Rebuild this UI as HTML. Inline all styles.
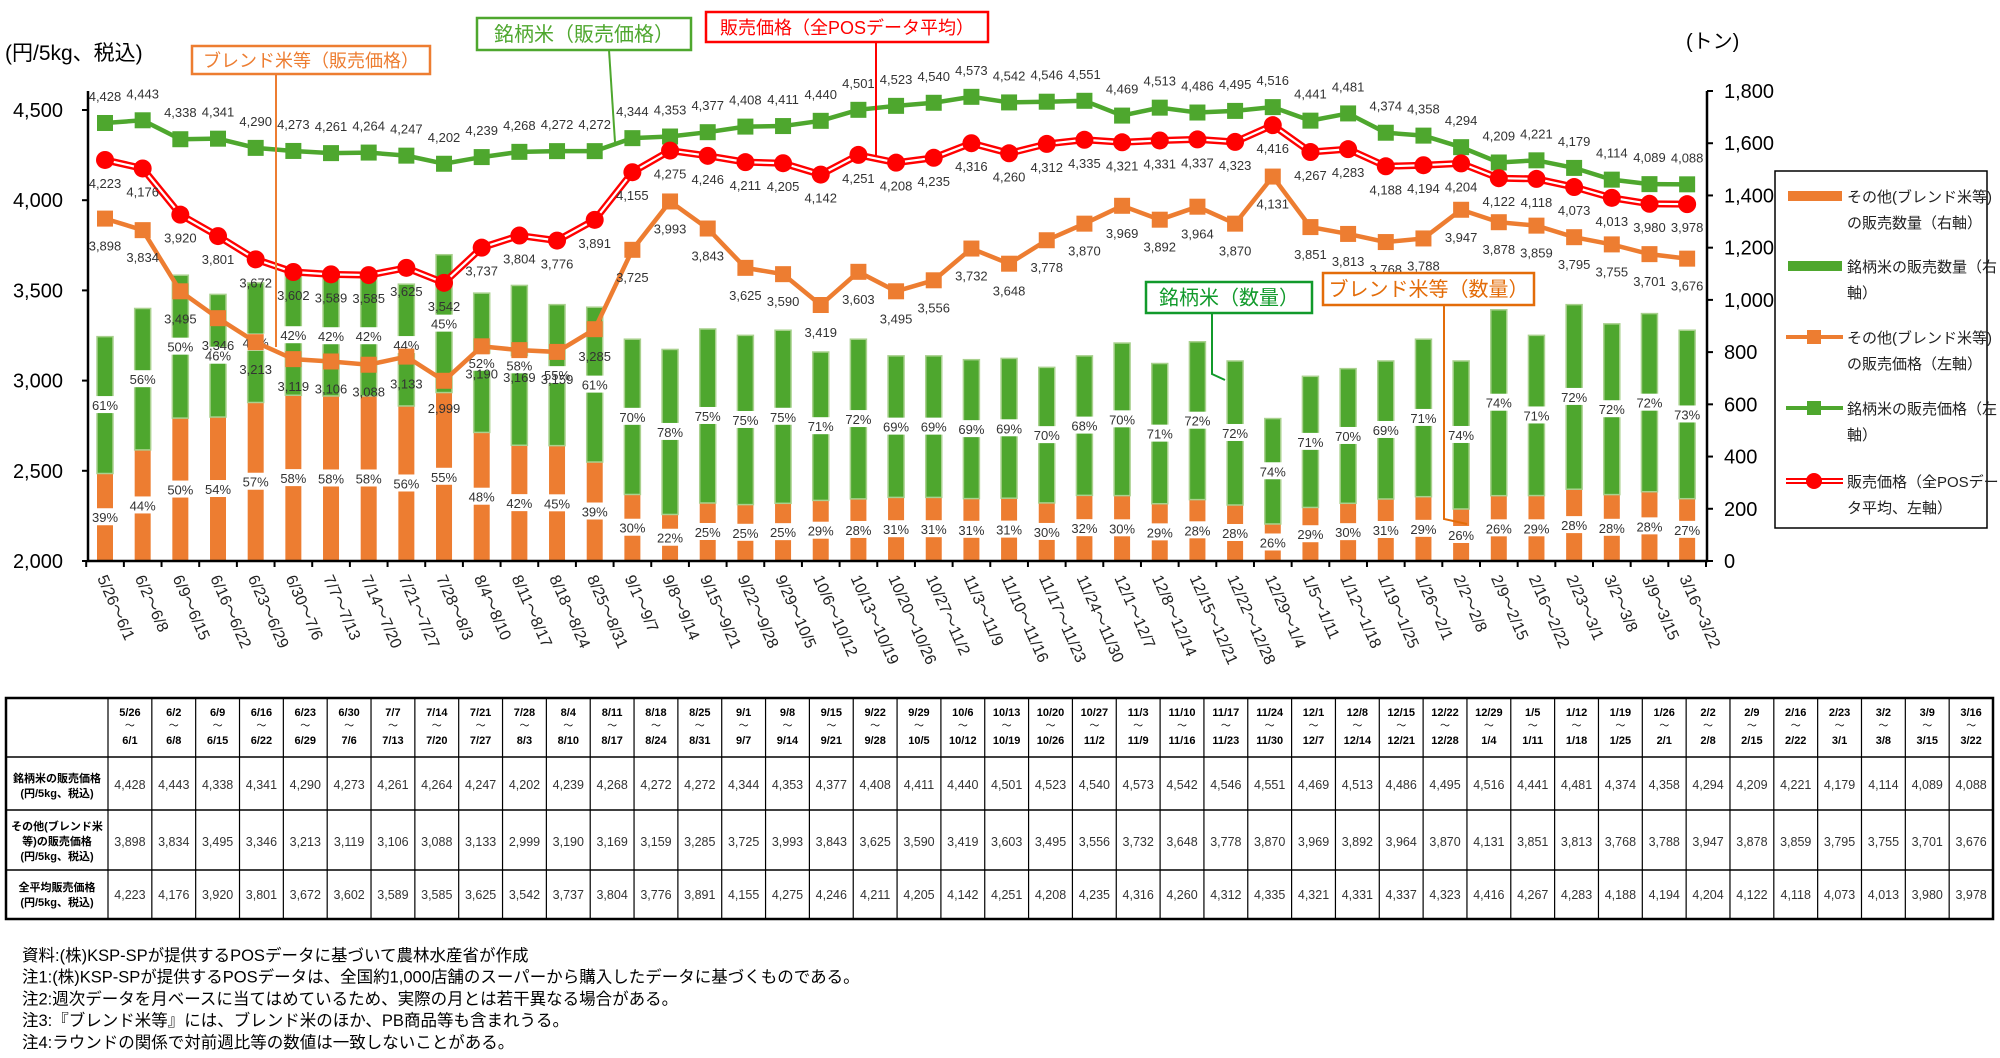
<!DOCTYPE html>
<html><head><meta charset="utf-8">
<style>
html,body{margin:0;padding:0;background:#fff;width:2000px;height:1058px;overflow:hidden}
svg{display:block;font-family:"Liberation Sans","Noto Sans CJK JP",sans-serif}
</style></head>
<body>
<svg id="c" width="2000" height="1058" viewBox="0 0 2000 1058" xmlns="http://www.w3.org/2000/svg"></svg>
<script>
const G=["4,428","4,443","4,338","4,341","4,290","4,273","4,261","4,264","4,247","4,202","4,239","4,268","4,272","4,272","4,344","4,353","4,377","4,408","4,411","4,440","4,501","4,523","4,540","4,573","4,542","4,546","4,551","4,469","4,513","4,486","4,495","4,516","4,441","4,481","4,374","4,358","4,294","4,209","4,221","4,179","4,114","4,089","4,088"];
const O=["3,898","3,834","3,495","3,346","3,213","3,119","3,106","3,088","3,133","2,999","3,190","3,169","3,159","3,285","3,725","3,993","3,843","3,625","3,590","3,419","3,603","3,495","3,556","3,732","3,648","3,778","3,870","3,969","3,892","3,964","3,870","4,131","3,851","3,813","3,768","3,788","3,947","3,878","3,859","3,795","3,755","3,701","3,676"];
const A=["4,223","4,176","3,920","3,801","3,672","3,602","3,589","3,585","3,625","3,542","3,737","3,804","3,776","3,891","4,155","4,275","4,246","4,211","4,205","4,142","4,251","4,208","4,235","4,316","4,260","4,312","4,335","4,321","4,331","4,337","4,323","4,416","4,267","4,283","4,188","4,194","4,204","4,122","4,118","4,073","4,013","3,980","3,978"];
const OP=[39,44,50,54,57,58,58,58,56,55,48,42,45,39,30,22,25,25,25,29,28,31,31,31,31,30,32,30,29,28,28,26,29,30,31,29,26,26,29,28,28,28,27];
const TOP=[263,241,215,230,221,215,216,216,222,199,229,223,238,240,265,273,257,262,258,275,265,278,278,281,280,287,278,268,284,267,282,327,294,288,282,265,282,242,262,238,253,245,258];
const S=["5/26","6/2","6/9","6/16","6/23","6/30","7/7","7/14","7/21","7/28","8/4","8/11","8/18","8/25","9/1","9/8","9/15","9/22","9/29","10/6","10/13","10/20","10/27","11/3","11/10","11/17","11/24","12/1","12/8","12/15","12/22","12/29","1/5","1/12","1/19","1/26","2/2","2/9","2/16","2/23","3/2","3/9","3/16"];
const E=["6/1","6/8","6/15","6/22","6/29","7/6","7/13","7/20","7/27","8/3","8/10","8/17","8/24","8/31","9/7","9/14","9/21","9/28","10/5","10/12","10/19","10/26","11/2","11/9","11/16","11/23","11/30","12/7","12/14","12/21","12/28","1/4","1/11","1/18","1/25","2/1","2/8","2/15","2/22","3/1","3/8","3/15","3/22"];
const n=v=>parseInt(v.replace(',',''));
const X=i=>105+i*37.67, Y=v=>561-(v-2000)*0.1804;
const GR="#4ea72e",OR="#ed7d31",RD="#ff0000";
let s='';
const T=(x,y,t,o)=>{o=o||{};s+=`<text x="${x}" y="${y}" font-size="${o.fs||13}" fill="${o.c||'#333'}" text-anchor="${o.a||'middle'}"${o.w?' font-weight="bold"':''}${o.tr?` transform="${o.tr}"`:''}>${t}</text>`;};
for(let i=0;i<43;i++){const x=X(i),t=TOP[i]*1.28,h=561-t,oh=h*OP[i]/100;
 s+=`<rect x="${x-8}" y="${561-oh}" width="16" height="${oh}" fill="${OR}"/>`;
 s+=`<rect x="${x-8}" y="${t}" width="16" height="${h-oh}" fill="${GR}" stroke="#a9d18e" stroke-width="1.5"/>`;
 const yo=561-oh/2, yg=t+(h-oh)/2;
 s+=`<rect x="${x-16}" y="${yo-9}" width="32" height="17" fill="#fff"/>`;T(x,yo+5,OP[i]+'%');
 s+=`<rect x="${x-16}" y="${yg-9}" width="32" height="17" fill="#fff"/>`;T(x,yg+5,(100-OP[i])+'%');
}
s+=`<line x1="88" y1="91" x2="88" y2="562" stroke="#000" stroke-width="2.5"/>`;
s+=`<line x1="1707" y1="91" x2="1707" y2="562" stroke="#000" stroke-width="2.5"/>`;
s+=`<line x1="87" y1="561" x2="1708" y2="561" stroke="#000" stroke-width="2.5"/>`;
for(let v=2000;v<=4500;v+=500){const y=Y(v);s+=`<line x1="82" y1="${y}" x2="88" y2="${y}" stroke="#000" stroke-width="2"/>`;T(63,y+7,(v/1000|0)+','+String(v%1000).padStart(3,'0'),{fs:20,a:'end',c:'#000'});}
for(let v=0;v<=1800;v+=200){const y=561-v*470/1800;s+=`<line x1="1707" y1="${y}" x2="1713" y2="${y}" stroke="#000" stroke-width="2"/>`;T(1724,y+7,v>=1000?'1,'+String(v%1000).padStart(3,'0'):v,{fs:20,a:'start',c:'#000'});}
for(let i=0;i<=43;i++){const x=X(i)-18.8;s+=`<line x1="${x}" y1="561" x2="${x}" y2="567" stroke="#000" stroke-width="2"/>`;}
for(let i=0;i<43;i++){const x=X(i)-8;T(x,578,S[i]+'～'+E[i],{fs:16,a:'start',c:'#222',tr:`rotate(66 ${x} 578)`});}
T(5,60,'(円/5kg、税込)',{fs:21,a:'start',c:'#000'});
T(1686,48,'(トン)',{fs:20,a:'start',c:'#000'});
const pl=(arr)=>arr.map((v,i)=>`${X(i)},${Y(n(v))}`).join(' ');
s+=`<polyline points="${pl(G)}" fill="none" stroke="${GR}" stroke-width="4.5"/>`;
s+=`<polyline points="${pl(O)}" fill="none" stroke="${OR}" stroke-width="4.5"/>`;
s+=`<polyline points="${pl(A)}" fill="none" stroke="${RD}" stroke-width="7"/><polyline points="${pl(A)}" fill="none" stroke="#fff" stroke-width="2.2"/>`;
for(let i=0;i<43;i++){const x=X(i);
 let y=Y(n(G[i]));s+=`<rect x="${x-8}" y="${y-8}" width="16" height="16" fill="${GR}"/>`;T(x,y-22,G[i]);
 y=Y(n(O[i]));s+=`<rect x="${x-8}" y="${y-8}" width="16" height="16" fill="${OR}"/>`;T(x,y+32,O[i]);
 y=Y(n(A[i]));s+=`<circle cx="${x}" cy="${y}" r="9" fill="${RD}"/>`;T(x,y+28,A[i]);
}
const box=(x,y,w,h,c,t,fs)=>{s+=`<rect x="${x}" y="${y}" width="${w}" height="${h}" fill="#fff" stroke="${c}" stroke-width="2.5"/>`;T(x+w/2,y+h/2+7,t,{fs:fs||20,c:c});};
s+=`<polyline points="276,74 276,347" fill="none" stroke="${OR}" stroke-width="2"/>`;
s+=`<polyline points="609,50 615,142" fill="none" stroke="${GR}" stroke-width="2"/>`;
s+=`<polyline points="876,42 876,157" fill="none" stroke="${RD}" stroke-width="2"/>`;
s+=`<polyline points="1212,313 1212,374 1225,380" fill="none" stroke="#119a2b" stroke-width="2"/>`;
s+=`<polyline points="1444,305 1444,519 1467,524" fill="none" stroke="#e36c09" stroke-width="2"/>`;
box(192,46,238,28,OR,'ブレンド米等（販売価格）',18);
box(477,18,214,32,GR,'銘柄米（販売価格）');
box(706,12,282,30,RD,'販売価格（全POSデータ平均）',18);
box(1146,282,166,31,'#119a2b','銘柄米（数量）');
box(1323,273,211,32,'#e36c09','ブレンド米等（数量）');
s+=`<rect x="1775" y="171" width="212" height="357" fill="#fff" stroke="#000" stroke-width="1.5"/>`;
const lg=[[196,'bar',OR,'その他(ブレンド米等)','の販売数量（右軸）'],[266,'bar',GR,'銘柄米の販売数量（右','軸）'],[337,'sq',OR,'その他(ブレンド米等)','の販売価格（左軸）'],[408,'sq',GR,'銘柄米の販売価格（左','軸）'],[481,'ci',RD,'販売価格（全POSデー','タ平均、左軸）']];
for(const [y,k,c,a,b] of lg){
 if(k==='bar')s+=`<rect x="1788" y="${y-5}" width="54" height="10" fill="${c}"/>`;
 else if(k==='sq')s+=`<line x1="1786" y1="${y}" x2="1843" y2="${y}" stroke="${c}" stroke-width="4"/><rect x="1807" y="${y-7}" width="14" height="14" fill="${c}"/>`;
 else s+=`<line x1="1786" y1="${y}" x2="1843" y2="${y}" stroke="${c}" stroke-width="6"/><line x1="1786" y1="${y}" x2="1843" y2="${y}" stroke="#fff" stroke-width="2"/><circle cx="1814" cy="${y}" r="8" fill="${c}"/>`;
 T(1847,y+6,a,{fs:15,a:'start',c:'#222'});T(1847,y+32,b,{fs:15,a:'start',c:'#222'});
}
const tl=6,tr=1993,c0=108,cw=(tr-c0)/43,rows=[698,757,810,870,919];
s+=`<rect x="${tl}" y="698" width="${tr-tl}" height="221" fill="none" stroke="#000" stroke-width="2.5"/>`;
for(const r of rows.slice(1,4))s+=`<line x1="${tl}" y1="${r}" x2="${tr}" y2="${r}" stroke="#000" stroke-width="1.5"/>`;
for(let i=0;i<43;i++){const x=c0+i*cw;s+=`<line x1="${x}" y1="698" x2="${x}" y2="919" stroke="#000" stroke-width="1.2"/>`;
 const cx=x+cw/2;T(cx,716,S[i],{fs:11,w:1,c:'#000'});T(cx,729,'～',{fs:10,c:'#000'});T(cx,744,E[i],{fs:11,w:1,c:'#000'});
 T(cx,789,G[i],{fs:12.5});T(cx,846,O[i],{fs:12.5});T(cx,899,A[i],{fs:12.5});}
const lx=57;
T(lx,782,'銘柄米の販売価格',{fs:11,w:1,c:'#000'});T(lx,797,'(円/5kg、税込)',{fs:11,w:1,c:'#000'});
T(lx,830,'その他(ブレンド米',{fs:11,w:1,c:'#000'});T(lx,845,'等)の販売価格',{fs:11,w:1,c:'#000'});T(lx,860,'(円/5kg、税込)',{fs:11,w:1,c:'#000'});
T(lx,891,'全平均販売価格',{fs:11,w:1,c:'#000'});T(lx,906,'(円/5kg、税込)',{fs:11,w:1,c:'#000'});
const notes=['資料:(株)KSP-SPが提供するPOSデータに基づいて農林水産省が作成','注1:(株)KSP-SPが提供するPOSデータは、全国約1,000店舗のスーパーから購入したデータに基づくものである。','注2:週次データを月ベースに当てはめているため、実際の月とは若干異なる場合がある。','注3:『ブレンド米等』には、ブレンド米のほか、PB商品等も含まれうる。','注4:ラウンドの関係で対前週比等の数値は一致しないことがある。'];
notes.forEach((t,i)=>T(22,961+i*21.7,t,{fs:16.5,a:'start',c:'#000'}));
document.getElementById('c').innerHTML=s;
</script>
</body></html>
